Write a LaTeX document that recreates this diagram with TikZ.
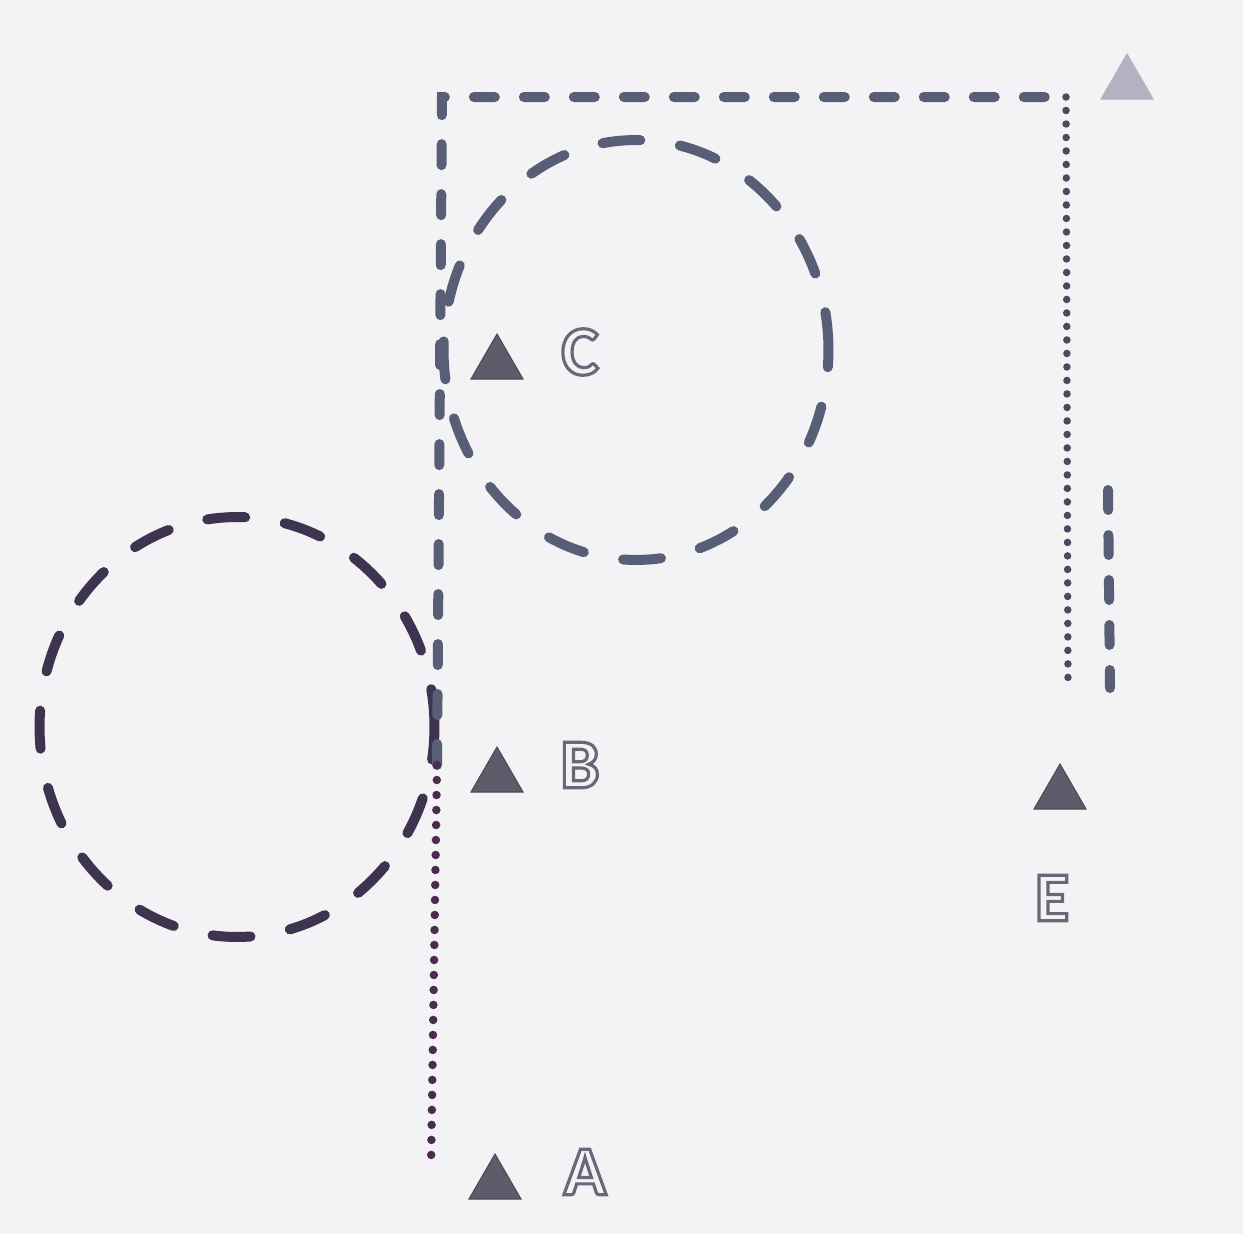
\documentclass[tikz,border=0pt]{standalone}
\usepackage{fontspec}
\setmainfont{Carlito}
\usetikzlibrary{shapes.geometric}
\definecolor{bgc}{RGB}{243,243,246}
\definecolor{linec}{RGB}{88,94,118}
\definecolor{darkc}{RGB}{62,52,80}
\definecolor{dotc}{RGB}{74,44,78}
\definecolor{trif}{RGB}{92,92,106}
\definecolor{tril}{RGB}{178,178,192}
\definecolor{letc}{RGB}{104,104,120}
\tikzset{
  dashline/.style={draw=linec, line width=0.2cm, line cap=round, dash pattern=on 0.42cm off 0.58cm},
  dotline/.style={draw=dotc, line width=0.17cm, line cap=round, dash pattern=on 0pt off 0.3cm},
  ring/.style={ellipse, draw=linec, line width=0.2cm, line cap=round, dash pattern=on 0.76cm off 0.8cm, minimum width=7.7cm, minimum height=8.4cm, inner sep=0pt},
  tri/.style={regular polygon, regular polygon sides=3, fill=trif, draw=trif!80!black, line width=0.6pt, minimum size=1.2cm, inner sep=0pt},
  lbl/.style={font=\fontsize{40}{40}\selectfont\bfseries, inner sep=0pt, text=letc}
}
\newcommand{\hollow}[1]{\special{pdf:literal direct 1 Tr 1.8 w}#1\special{pdf:literal direct 0 Tr}}
\begin{document}
\begin{tikzpicture}[x=0.02cm, y=-0.02cm]
\useasboundingbox[fill=bgc] (0,0) rectangle (1243,1234);
% circles
\node[ring] (circC) at (636,350) {};
\node[ring, draw=darkc, minimum width=7.9cm] (circL) at (237,727) {};
% L-shaped dashed path
\coordinate (top) at (442,97);
\coordinate (corner) at (1066,97);
\coordinate (midv) at (437,765);
\coordinate (bot) at (431,1168);
\coordinate (rbot) at (1068,688);
\coordinate (rdtop) at (1108,490);
\coordinate (rdbot) at (1110,688);
\draw[dashline] (midv) -- (top) -- (corner);
\draw[dotline] (midv) -- (bot);
\draw[dotline, draw=linec!80!black, line width=0.15cm, dash pattern=on 0pt off 0.27cm] (corner) -- (rbot);
\draw[dashline, dash pattern=on 0.4cm off 0.5cm] (rdtop) -- (rdbot);
% triangles
\node[tri] (tC) at (497,364) {};
\node[tri] (tB) at (497,777) {};
\node[tri] (tA) at (495,1184) {};
\node[tri] (tE) at (1060,794) {};
\node[tri, fill=tril, draw=tril] (tT) at (1127,84) {};
% labels
\node[lbl] (lC) at (580,352) {\hollow{C}};
\node[lbl] (lB) at (580,765) {\hollow{B}};
\node[lbl] (lA) at (585,1172) {\hollow{A}};
\node[lbl] (lE) at (1052,898) {\hollow{E}};
\end{tikzpicture}
\end{document}
